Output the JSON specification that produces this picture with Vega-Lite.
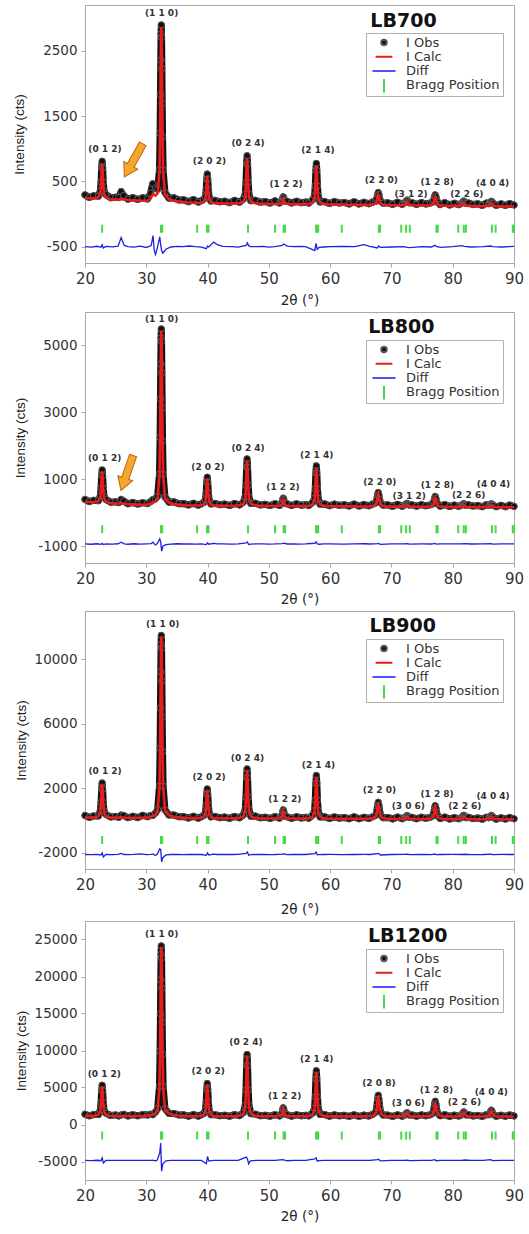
{
"$schema": "https://vega.github.io/schema/vega-lite/v6.json",
"padding": {"left": 12, "top": 4, "right": 2, "bottom": 0},
"spacing": 4,
"config": {
  "font": "DejaVu Sans",
  "locale": {"number": {"decimal": ".", "thousands": "", "grouping": [3], "currency": ["", ""], "minus": "-"}},
  "view": {"stroke": "#a8a8a8", "strokeWidth": 1},
  "axis": {"domainColor": "#a8a8a8", "tickColor": "#a8a8a8", "tickSize": 4, "labelColor": "#333333", "labelFont": "DejaVu Sans", "labelFontSize": 15, "grid": false, "labelPadding": 4, "titleColor": "#222222", "titleFontWeight": "normal", "labelOverlap": false, "labelFlush": false},
  "axisX": {"titleFont": "DejaVu Sans", "titleFontSize": 13.5},
  "axisY": {"titleFont": "Liberation Sans", "titleFontSize": 13.5, "labelFontSize": 13.5},
  "legend": {"orient": "none", "legendX": 281, "legendY": 28, "title": null, "direction": "vertical", "fillColor": "white", "strokeColor": "#b0b0b0", "padding": 3, "labelFont": "DejaVu Sans", "labelFontSize": 13, "labelColor": "#333333", "labelOffset": 7, "symbolOpacity": 1, "symbolStrokeWidth": 2, "rowPadding": 0.3, "clipHeight": 13}
},
"resolve": {"scale": {"fill": "independent", "stroke": "independent", "shape": "independent", "size": "independent", "x": "independent", "y": "independent"}, "legend": {"fill": "independent", "stroke": "independent", "shape": "independent", "size": "independent"}},
"datasets": {
"series": [{"s": "I Obs"}, {"s": "I Calc"}, {"s": "Diff"}, {"s": "Bragg Position"}],
"prof": [
{"x":20,"o1":293,"c1":245,"o2":400,"c2":330,"o3":320,"c3":200,"o4":1390,"c4":1170},
{"x":20.7,"o1":254,"c1":242,"o2":333,"c2":323,"o3":198,"c3":198,"o4":1168,"c4":1168},
{"x":21.4,"o1":280,"c1":239,"o2":374,"c2":316,"o3":292,"c3":196,"o4":1342,"c4":1166},
{"x":22.2,"o1":273,"c1":257,"o2":362,"c2":346,"o3":290,"c3":278,"o4":1347,"c4":1325},
{"x":22.5,"o1":356,"c1":326,"o2":505,"c2":465,"o3":608,"c3":548,"o4":1959,"c4":1849},
{"x":22.62,"o1":492,"c1":462,"o2":739,"c2":699,"o3":1129,"c3":1069,"o4":2967,"c4":2857},
{"x":22.72,"o1":709,"c1":679,"o2":1114,"c2":1074,"o3":1964,"c3":1904,"o4":4581,"c4":4471},
{"x":22.8,"o1":807,"c1":777,"o2":1282,"c2":1242,"o3":2340,"c3":2280,"o4":5307,"c4":5197},
{"x":22.88,"o1":708,"c1":678,"o2":1113,"c2":1073,"o3":1963,"c3":1903,"o4":4580,"c4":4470},
{"x":22.98,"o1":490,"c1":460,"o2":736,"c2":696,"o3":1128,"c3":1068,"o4":2966,"c4":2856},
{"x":23.1,"o1":354,"c1":324,"o2":499,"c2":459,"o3":606,"c3":546,"o4":1957,"c4":1847},
{"x":23.4,"o1":298,"c1":252,"o2":401,"c2":334,"o3":388,"c3":274,"o4":1530,"c4":1321},
{"x":24.2,"o1":249,"c1":226,"o2":316,"c2":288,"o3":223,"c3":187,"o4":1223,"c4":1157},
{"x":25,"o1":258,"c1":223,"o2":329,"c2":280,"o3":263,"c3":185,"o4":1298,"c4":1155},
{"x":25.5,"o1":251,"c1":223,"o2":303,"c2":279,"o3":204,"c3":188,"o4":1154,"c4":1154},
{"x":25.9,"o1":343,"c1":233,"o2":401,"c2":291,"o3":343,"c3":203,"o4":1293,"c4":1153},
{"x":26.3,"o1":284,"c1":220,"o2":355,"c2":271,"o3":322,"c3":185,"o4":1372,"c4":1152},
{"x":27,"o1":226,"c1":214,"o2":270,"c2":260,"o3":179,"c3":179,"o4":1149,"c4":1149},
{"x":27.8,"o1":251,"c1":210,"o2":310,"c2":252,"o3":273,"c3":177,"o4":1323,"c4":1147},
{"x":28.6,"o1":223,"c1":207,"o2":260,"c2":244,"o3":186,"c3":174,"o4":1166,"c4":1144},
{"x":29.4,"o1":249,"c1":203,"o2":303,"c2":236,"o3":330,"c3":182,"o4":1351,"c4":1142},
{"x":30.2,"o1":230,"c1":207,"o2":274,"c2":246,"o3":240,"c3":204,"o4":1275,"c4":1209},
{"x":30.7,"o1":317,"c1":238,"o2":337,"c2":267,"o3":321,"c3":234,"o4":1396,"c4":1253},
{"x":31.05,"o1":464,"c1":307,"o2":390,"c2":310,"o3":318,"c3":288,"o4":1321,"c4":1321},
{"x":31.5,"o1":397,"c1":283,"o2":425,"c2":332,"o3":473,"c3":362,"o4":1679,"c4":1503},
{"x":31.85,"o1":378,"c1":319,"o2":498,"c2":444,"o3":689,"c3":623,"o4":2162,"c4":2052},
{"x":32.15,"o1":677,"c1":647,"o2":1154,"c2":1114,"o3":2140,"c3":2080,"o4":5136,"c4":5026},
{"x":32.25,"o1":1238,"c1":1208,"o2":2252,"c2":2212,"o3":4505,"c3":4445,"o4":9943,"c4":9833},
{"x":32.31,"o1":1825,"c1":1795,"o2":3402,"c2":3362,"o3":6983,"c3":6923,"o4":14979,"c4":14869},
{"x":32.36,"o1":2359,"c1":2329,"o2":4447,"c2":4407,"o3":9235,"c3":9175,"o4":19557,"c4":19447},
{"x":32.41,"o1":2760,"c1":2730,"o2":5231,"c2":5191,"o3":10925,"c3":10865,"o4":22991,"c4":22881},
{"x":32.45,"o1":2893,"c1":2863,"o2":5492,"c2":5452,"o3":11488,"c3":11428,"o4":24135,"c4":24025},
{"x":32.5,"o1":2706,"c1":2676,"o2":5126,"c2":5086,"o3":10700,"c3":10640,"o4":22533,"c4":22423},
{"x":32.55,"o1":2226,"c1":2196,"o2":4186,"c2":4146,"o3":8672,"c3":8612,"o4":18413,"c4":18303},
{"x":32.6,"o1":1692,"c1":1662,"o2":3140,"c2":3100,"o3":6420,"c3":6360,"o4":13835,"c4":13725},
{"x":32.66,"o1":1184,"c1":1154,"o2":2147,"c2":2107,"o3":4280,"c3":4220,"o4":9485,"c4":9375},
{"x":32.75,"o1":675,"c1":645,"o2":1150,"c2":1110,"o3":2135,"c3":2075,"o4":5130,"c4":5020},
{"x":33.05,"o1":329,"c1":299,"o2":474,"c2":434,"o3":675,"c3":615,"o4":2160,"c4":2050},
{"x":33.7,"o1":243,"c1":227,"o2":318,"c2":302,"o3":344,"c3":332,"o4":1498,"c4":1476},
{"x":34.5,"o1":249,"c1":203,"o2":327,"c2":260,"o3":354,"c3":240,"o4":1500,"c4":1291},
{"x":35.3,"o1":215,"c1":192,"o2":271,"c2":243,"o3":240,"c3":204,"o4":1287,"c4":1221},
{"x":36.1,"o1":219,"c1":184,"o2":280,"c2":231,"o3":256,"c3":178,"o4":1311,"c4":1168},
{"x":36.9,"o1":188,"c1":176,"o2":230,"c2":220,"o3":156,"c3":156,"o4":1126,"c4":1126},
{"x":37.7,"o1":221,"c1":173,"o2":288,"c2":218,"o3":275,"c3":155,"o4":1345,"c4":1125},
{"x":38.5,"o1":182,"c1":170,"o2":227,"c2":217,"o3":153,"c3":153,"o4":1123,"c4":1123},
{"x":39.35,"o1":225,"c1":184,"o2":306,"c2":248,"o3":317,"c3":221,"o4":1469,"c4":1293},
{"x":39.65,"o1":267,"c1":237,"o2":393,"c2":353,"o3":510,"c3":450,"o4":1964,"c4":1854},
{"x":39.77,"o1":371,"c1":341,"o2":595,"c2":555,"o3":948,"c3":888,"o4":3040,"c4":2930},
{"x":39.87,"o1":537,"c1":507,"o2":919,"c2":879,"o3":1651,"c3":1591,"o4":4764,"c4":4654},
{"x":39.95,"o1":611,"c1":581,"o2":1065,"c2":1025,"o3":1967,"c3":1907,"o4":5540,"c4":5430},
{"x":40.03,"o1":536,"c1":506,"o2":918,"c2":878,"o3":1650,"c3":1590,"o4":4763,"c4":4653},
{"x":40.13,"o1":370,"c1":340,"o2":594,"c2":554,"o3":947,"c3":887,"o4":3039,"c4":2929},
{"x":40.25,"o1":266,"c1":236,"o2":392,"c2":352,"o3":509,"c3":449,"o4":1963,"c4":1853},
{"x":40.55,"o1":198,"c1":182,"o2":262,"c2":246,"o3":231,"c3":219,"o4":1313,"c4":1291},
{"x":41.2,"o1":210,"c1":164,"o2":281,"c2":214,"o3":262,"c3":148,"o4":1328,"c4":1119},
{"x":42,"o1":186,"c1":163,"o2":241,"c2":213,"o3":183,"c3":147,"o4":1184,"c4":1118},
{"x":42.8,"o1":197,"c1":162,"o2":261,"c2":212,"o3":224,"c3":146,"o4":1260,"c4":1117},
{"x":43.6,"o1":173,"c1":161,"o2":221,"c2":211,"o3":145,"c3":145,"o4":1116,"c4":1116},
{"x":44.4,"o1":209,"c1":161,"o2":281,"c2":211,"o3":263,"c3":143,"o4":1336,"c4":1116},
{"x":45.2,"o1":179,"c1":167,"o2":234,"c2":224,"o3":172,"c3":172,"o4":1197,"c4":1197},
{"x":45.85,"o1":228,"c1":187,"o2":321,"c2":263,"o3":357,"c3":261,"o4":1620,"c4":1444},
{"x":46.15,"o1":309,"c1":279,"o2":481,"c2":441,"o3":711,"c3":651,"o4":2624,"c4":2514},
{"x":46.27,"o1":484,"c1":454,"o2":821,"c2":781,"o3":1463,"c3":1403,"o4":4683,"c4":4573},
{"x":46.37,"o1":765,"c1":735,"o2":1366,"c2":1326,"o3":2667,"c3":2607,"o4":7978,"c4":7868},
{"x":46.45,"o1":891,"c1":861,"o2":1611,"c2":1571,"o3":3208,"c3":3148,"o4":9460,"c4":9350},
{"x":46.53,"o1":764,"c1":734,"o2":1365,"c2":1325,"o3":2666,"c3":2606,"o4":7977,"c4":7867},
{"x":46.63,"o1":483,"c1":453,"o2":820,"c2":780,"o3":1462,"c3":1402,"o4":4682,"c4":4572},
{"x":46.75,"o1":308,"c1":278,"o2":480,"c2":440,"o3":710,"c3":650,"o4":2623,"c4":2513},
{"x":47.05,"o1":202,"c1":186,"o2":278,"c2":262,"o3":271,"c3":259,"o4":1464,"c4":1442},
{"x":47.8,"o1":210,"c1":164,"o2":288,"c2":221,"o3":282,"c3":168,"o4":1403,"c4":1194},
{"x":48.6,"o1":179,"c1":156,"o2":234,"c2":206,"o3":173,"c3":137,"o4":1177,"c4":1111},
{"x":49.4,"o1":191,"c1":156,"o2":255,"c2":206,"o3":214,"c3":136,"o4":1254,"c4":1111},
{"x":50.2,"o1":167,"c1":155,"o2":215,"c2":205,"o3":135,"c3":135,"o4":1110,"c4":1110},
{"x":51,"o1":202,"c1":154,"o2":274,"c2":204,"o3":254,"c3":134,"o4":1329,"c4":1109},
{"x":51.75,"o1":168,"c1":156,"o2":221,"c2":211,"o3":151,"c3":151,"o4":1149,"c4":1149},
{"x":52.05,"o1":197,"c1":167,"o2":276,"c2":236,"o3":272,"c3":212,"o4":1393,"c4":1283},
{"x":52.17,"o1":217,"c1":187,"o2":325,"c2":285,"o3":389,"c3":329,"o4":1651,"c4":1541},
{"x":52.27,"o1":249,"c1":219,"o2":403,"c2":363,"o3":577,"c3":517,"o4":2063,"c4":1953},
{"x":52.35,"o1":263,"c1":233,"o2":438,"c2":398,"o3":662,"c3":602,"o4":2249,"c4":2139},
{"x":52.43,"o1":249,"c1":219,"o2":403,"c2":363,"o3":577,"c3":517,"o4":2063,"c4":1953},
{"x":52.53,"o1":217,"c1":187,"o2":325,"c2":285,"o3":389,"c3":329,"o4":1651,"c4":1541},
{"x":52.65,"o1":197,"c1":167,"o2":276,"c2":236,"o3":272,"c3":212,"o4":1393,"c4":1283},
{"x":52.95,"o1":197,"c1":156,"o2":268,"c2":210,"o3":245,"c3":149,"o4":1324,"c4":1148},
{"x":53.7,"o1":167,"c1":151,"o2":217,"c2":201,"o3":141,"c3":129,"o4":1128,"c4":1106},
{"x":54.5,"o1":197,"c1":151,"o2":268,"c2":201,"o3":242,"c3":128,"o4":1315,"c4":1106},
{"x":55.3,"o1":173,"c1":150,"o2":228,"c2":200,"o3":163,"c3":127,"o4":1171,"c4":1105},
{"x":56.1,"o1":184,"c1":149,"o2":248,"c2":199,"o3":204,"c3":126,"o4":1247,"c4":1104},
{"x":56.5,"o1":167,"c1":155,"o2":221,"c2":211,"o3":151,"c3":151,"o4":1163,"c4":1163},
{"x":57.15,"o1":220,"c1":172,"o2":315,"c2":245,"o3":348,"c3":228,"o4":1565,"c4":1345},
{"x":57.45,"o1":280,"c1":250,"o2":436,"c2":396,"o3":628,"c3":568,"o4":2238,"c4":2128},
{"x":57.57,"o1":429,"c1":399,"o2":726,"c2":686,"o3":1279,"c3":1219,"o4":3748,"c4":3638},
{"x":57.67,"o1":668,"c1":638,"o2":1192,"c2":1152,"o3":2323,"c3":2263,"o4":6163,"c4":6053},
{"x":57.75,"o1":775,"c1":745,"o2":1402,"c2":1362,"o3":2793,"c3":2733,"o4":7250,"c4":7140},
{"x":57.83,"o1":667,"c1":637,"o2":1191,"c2":1151,"o3":2322,"c3":2262,"o4":6162,"c4":6052},
{"x":57.93,"o1":428,"c1":398,"o2":725,"c2":685,"o3":1278,"c3":1218,"o4":3747,"c4":3637},
{"x":58.05,"o1":279,"c1":249,"o2":435,"c2":395,"o3":627,"c3":567,"o4":2237,"c4":2127},
{"x":58.35,"o1":183,"c1":171,"o2":254,"c2":244,"o3":226,"c3":226,"o4":1343,"c4":1343},
{"x":59.1,"o1":193,"c1":152,"o2":266,"c2":208,"o3":243,"c3":147,"o4":1337,"c4":1161},
{"x":59.9,"o1":161,"c1":145,"o2":211,"c2":195,"o3":132,"c3":120,"o4":1122,"c4":1100},
{"x":60.7,"o1":190,"c1":144,"o2":261,"c2":194,"o3":233,"c3":119,"o4":1309,"c4":1100},
{"x":61.5,"o1":167,"c1":144,"o2":222,"c2":194,"o3":154,"c3":118,"o4":1165,"c4":1099},
{"x":62.3,"o1":178,"c1":143,"o2":242,"c2":193,"o3":195,"c3":117,"o4":1242,"c4":1099},
{"x":63.1,"o1":154,"c1":142,"o2":202,"c2":192,"o3":116,"c3":116,"o4":1099,"c4":1099},
{"x":63.9,"o1":189,"c1":141,"o2":261,"c2":191,"o3":235,"c3":115,"o4":1319,"c4":1099},
{"x":64.7,"o1":152,"c1":140,"o2":200,"c2":190,"o3":114,"c3":114,"o4":1098,"c4":1098},
{"x":65.5,"o1":181,"c1":140,"o2":248,"c2":190,"o3":209,"c3":113,"o4":1274,"c4":1098},
{"x":66.3,"o1":157,"c1":141,"o2":209,"c2":193,"o3":134,"c3":122,"o4":1148,"c4":1126},
{"x":67.05,"o1":190,"c1":144,"o2":270,"c2":203,"o3":264,"c3":150,"o4":1416,"c4":1207},
{"x":67.45,"o1":196,"c1":166,"o2":293,"c2":253,"o3":336,"c3":276,"o4":1675,"c4":1565},
{"x":67.61,"o1":236,"c1":206,"o2":387,"c2":347,"o3":577,"c3":517,"o4":2363,"c4":2253},
{"x":67.75,"o1":300,"c1":270,"o2":539,"c2":499,"o3":965,"c3":905,"o4":3464,"c4":3354},
{"x":67.85,"o1":329,"c1":299,"o2":608,"c2":568,"o3":1140,"c3":1080,"o4":3959,"c4":3849},
{"x":67.95,"o1":300,"c1":270,"o2":539,"c2":499,"o3":965,"c3":905,"o4":3464,"c4":3354},
{"x":68.09,"o1":236,"c1":206,"o2":387,"c2":347,"o3":577,"c3":517,"o4":2363,"c4":2253},
{"x":68.25,"o1":195,"c1":165,"o2":292,"c2":252,"o3":335,"c3":275,"o4":1674,"c4":1564},
{"x":68.65,"o1":165,"c1":142,"o2":229,"c2":201,"o3":184,"c3":148,"o4":1273,"c4":1207},
{"x":69.4,"o1":173,"c1":138,"o2":239,"c2":190,"o3":196,"c3":118,"o4":1267,"c4":1124},
{"x":70.2,"o1":147,"c1":135,"o2":195,"c2":185,"o3":106,"c3":106,"o4":1096,"c4":1096},
{"x":71,"o1":182,"c1":134,"o2":254,"c2":184,"o3":225,"c3":105,"o4":1315,"c4":1095},
{"x":71.75,"o1":147,"c1":135,"o2":195,"c2":185,"o3":110,"c3":110,"o4":1111,"c4":1111},
{"x":72.15,"o1":172,"c1":142,"o2":233,"c2":193,"o3":190,"c3":130,"o4":1272,"c4":1162},
{"x":72.31,"o1":184,"c1":154,"o2":247,"c2":207,"o3":226,"c3":166,"o4":1372,"c4":1262},
{"x":72.45,"o1":203,"c1":173,"o2":271,"c2":231,"o3":286,"c3":226,"o4":1532,"c4":1422},
{"x":72.55,"o1":212,"c1":182,"o2":282,"c2":242,"o3":313,"c3":253,"o4":1604,"c4":1494},
{"x":72.65,"o1":203,"c1":173,"o2":271,"c2":231,"o3":286,"c3":226,"o4":1532,"c4":1422},
{"x":72.79,"o1":184,"c1":154,"o2":247,"c2":207,"o3":226,"c3":166,"o4":1372,"c4":1262},
{"x":72.95,"o1":171,"c1":141,"o2":232,"c2":192,"o3":189,"c3":129,"o4":1271,"c4":1161},
{"x":73.35,"o1":175,"c1":134,"o2":241,"c2":183,"o3":204,"c3":108,"o4":1286,"c4":1110},
{"x":74.1,"o1":147,"c1":131,"o2":197,"c2":181,"o3":113,"c3":101,"o4":1115,"c4":1093},
{"x":74.9,"o1":176,"c1":130,"o2":247,"c2":180,"o3":214,"c3":100,"o4":1302,"c4":1093},
{"x":75.6,"o1":153,"c1":130,"o2":210,"c2":182,"o3":143,"c3":107,"o4":1178,"c4":1112},
{"x":76.35,"o1":169,"c1":134,"o2":239,"c2":190,"o3":207,"c3":129,"o4":1314,"c4":1171},
{"x":76.75,"o1":181,"c1":151,"o2":264,"c2":224,"o3":289,"c3":229,"o4":1534,"c4":1424},
{"x":76.91,"o1":215,"c1":185,"o2":331,"c2":291,"o3":481,"c3":421,"o4":2020,"c4":1910},
{"x":77.05,"o1":270,"c1":240,"o2":439,"c2":399,"o3":789,"c3":729,"o4":2798,"c4":2688},
{"x":77.15,"o1":293,"c1":263,"o2":488,"c2":448,"o3":928,"c3":868,"o4":3148,"c4":3038},
{"x":77.25,"o1":269,"c1":239,"o2":439,"c2":399,"o3":789,"c3":729,"o4":2798,"c4":2688},
{"x":77.39,"o1":214,"c1":184,"o2":331,"c2":291,"o3":481,"c3":421,"o4":2020,"c4":1910},
{"x":77.55,"o1":180,"c1":150,"o2":264,"c2":224,"o3":288,"c3":228,"o4":1533,"c4":1423},
{"x":77.95,"o1":144,"c1":132,"o2":198,"c2":188,"o3":127,"c3":127,"o4":1170,"c4":1170},
{"x":78.7,"o1":175,"c1":127,"o2":249,"c2":179,"o3":223,"c3":103,"o4":1331,"c4":1111},
{"x":79.5,"o1":138,"c1":126,"o2":186,"c2":176,"o3":94,"c3":94,"o4":1092,"c4":1092},
{"x":80.25,"o1":166,"c1":125,"o2":233,"c2":175,"o3":189,"c3":93,"o4":1267,"c4":1091},
{"x":81,"o1":142,"c1":126,"o2":192,"c2":176,"o3":111,"c3":99,"o4":1133,"c4":1111},
{"x":81.4,"o1":162,"c1":132,"o2":224,"c2":184,"o3":183,"c3":123,"o4":1286,"c4":1176},
{"x":81.56,"o1":172,"c1":142,"o2":239,"c2":199,"o3":227,"c3":167,"o4":1411,"c4":1301},
{"x":81.7,"o1":190,"c1":160,"o2":262,"c2":222,"o3":299,"c3":239,"o4":1611,"c4":1501},
{"x":81.8,"o1":198,"c1":168,"o2":273,"c2":233,"o3":331,"c3":271,"o4":1701,"c4":1591},
{"x":81.9,"o1":190,"c1":160,"o2":262,"c2":222,"o3":299,"c3":239,"o4":1611,"c4":1501},
{"x":82.04,"o1":172,"c1":142,"o2":239,"c2":199,"o3":227,"c3":167,"o4":1411,"c4":1301},
{"x":82.2,"o1":161,"c1":131,"o2":223,"c2":183,"o3":182,"c3":122,"o4":1285,"c4":1175},
{"x":82.6,"o1":170,"c1":124,"o2":241,"c2":174,"o3":211,"c3":97,"o4":1319,"c4":1110},
{"x":83.3,"o1":145,"c1":122,"o2":200,"c2":172,"o3":125,"c3":89,"o4":1156,"c4":1090},
{"x":84.1,"o1":156,"c1":121,"o2":220,"c2":171,"o3":166,"c3":88,"o4":1232,"c4":1089},
{"x":84.8,"o1":132,"c1":120,"o2":180,"c2":170,"o3":87,"c3":87,"o4":1089,"c4":1089},
{"x":85.5,"o1":170,"c1":122,"o2":242,"c2":172,"o3":213,"c3":93,"o4":1338,"c4":1118},
{"x":85.9,"o1":158,"c1":128,"o2":219,"c2":179,"o3":177,"c3":117,"o4":1324,"c4":1214},
{"x":86.06,"o1":168,"c1":138,"o2":234,"c2":194,"o3":221,"c3":161,"o4":1507,"c4":1397},
{"x":86.2,"o1":186,"c1":156,"o2":258,"c2":218,"o3":293,"c3":233,"o4":1800,"c4":1690},
{"x":86.3,"o1":194,"c1":164,"o2":269,"c2":229,"o3":325,"c3":265,"o4":1932,"c4":1822},
{"x":86.4,"o1":186,"c1":156,"o2":258,"c2":218,"o3":293,"c3":233,"o4":1800,"c4":1690},
{"x":86.54,"o1":168,"c1":138,"o2":234,"c2":194,"o3":221,"c3":161,"o4":1507,"c4":1397},
{"x":86.7,"o1":157,"c1":127,"o2":218,"c2":178,"o3":176,"c3":116,"o4":1323,"c4":1213},
{"x":87.1,"o1":132,"c1":120,"o2":180,"c2":170,"o3":91,"c3":91,"o4":1117,"c4":1117},
{"x":87.9,"o1":158,"c1":117,"o2":225,"c2":167,"o3":179,"c3":83,"o4":1264,"c4":1088},
{"x":88.6,"o1":132,"c1":116,"o2":182,"c2":166,"o3":94,"c3":82,"o4":1109,"c4":1087},
{"x":89.3,"o1":162,"c1":116,"o2":233,"c2":166,"o3":195,"c3":81,"o4":1296,"c4":1087},
{"x":90,"o1":138,"c1":115,"o2":193,"c2":165,"o3":116,"c3":80,"o4":1153,"c4":1087}
],
"diff": [
{"x":20,"d1":-500,"d2":-930,"d3":-2100,"d4":-4850},
{"x":21,"d1":-508,"d2":-940,"d3":-2110,"d4":-4870},
{"x":22,"d1":-494,"d2":-925,"d3":-2090,"d4":-4830},
{"x":22.6,"d1":-510,"d2":-945,"d3":-2130,"d4":-4900},
{"x":22.8,"d1":-470,"d2":-915,"d3":-2000,"d4":-4500},
{"x":23,"d1":-520,"d2":-950,"d3":-2250,"d4":-5200},
{"x":23.4,"d1":-496,"d2":-928,"d3":-2095,"d4":-4860},
{"x":24.5,"d1":-503,"d2":-935,"d3":-2105,"d4":-4840},
{"x":25.4,"d1":-492,"d2":-925,"d3":-2095,"d4":-4855},
{"x":25.9,"d1":-360,"d2":-880,"d3":-2030,"d4":-4840},
{"x":26.4,"d1":-480,"d2":-930,"d3":-2100,"d4":-4850},
{"x":27,"d1":-500,"d2":-940,"d3":-2110,"d4":-4860},
{"x":28,"d1":-506,"d2":-925,"d3":-2095,"d4":-4845},
{"x":29,"d1":-492,"d2":-935,"d3":-2060,"d4":-4855},
{"x":30,"d1":-512,"d2":-928,"d3":-2105,"d4":-4850},
{"x":30.8,"d1":-482,"d2":-920,"d3":-2090,"d4":-4840},
{"x":31.1,"d1":-330,"d2":-880,"d3":-2060,"d4":-4830},
{"x":31.3,"d1":-560,"d2":-930,"d3":-2120,"d4":-4870},
{"x":31.5,"d1":-620,"d2":-960,"d3":-2150,"d4":-4900},
{"x":31.8,"d1":-520,"d2":-920,"d3":-2090,"d4":-4800},
{"x":32.2,"d1":-350,"d2":-780,"d3":-1750,"d4":-3800},
{"x":32.35,"d1":-470,"d2":-870,"d3":-1800,"d4":-2500},
{"x":32.5,"d1":-560,"d2":-1150,"d3":-2550,"d4":-6300},
{"x":32.7,"d1":-600,"d2":-1000,"d3":-2300,"d4":-5300},
{"x":33.2,"d1":-540,"d2":-950,"d3":-2130,"d4":-4900},
{"x":34,"d1":-505,"d2":-935,"d3":-2100,"d4":-4860},
{"x":35,"d1":-495,"d2":-925,"d3":-2095,"d4":-4845},
{"x":36,"d1":-500,"d2":-932,"d3":-2105,"d4":-4855},
{"x":37,"d1":-490,"d2":-928,"d3":-2098,"d4":-4850},
{"x":38,"d1":-500,"d2":-935,"d3":-2102,"d4":-4846},
{"x":39,"d1":-506,"d2":-930,"d3":-2100,"d4":-4852},
{"x":39.8,"d1":-530,"d2":-950,"d3":-2150,"d4":-5300},
{"x":40,"d1":-490,"d2":-895,"d3":-2000,"d4":-4300},
{"x":40.2,"d1":-505,"d2":-940,"d3":-2130,"d4":-4950},
{"x":41,"d1":-430,"d2":-915,"d3":-2080,"d4":-4840},
{"x":41.6,"d1":-470,"d2":-930,"d3":-2100,"d4":-4850},
{"x":42.5,"d1":-496,"d2":-928,"d3":-2095,"d4":-4855},
{"x":44,"d1":-500,"d2":-934,"d3":-2102,"d4":-4848},
{"x":45,"d1":-506,"d2":-929,"d3":-2098,"d4":-4852},
{"x":46.3,"d1":-480,"d2":-900,"d3":-2030,"d4":-4400},
{"x":46.5,"d1":-440,"d2":-870,"d3":-1950,"d4":-4600},
{"x":46.7,"d1":-485,"d2":-950,"d3":-2150,"d4":-5300},
{"x":47,"d1":-500,"d2":-935,"d3":-2110,"d4":-4900},
{"x":48,"d1":-500,"d2":-930,"d3":-2100,"d4":-4850},
{"x":49,"d1":-494,"d2":-926,"d3":-2096,"d4":-4846},
{"x":50,"d1":-506,"d2":-934,"d3":-2104,"d4":-4854},
{"x":51,"d1":-500,"d2":-930,"d3":-2100,"d4":-4850},
{"x":52.2,"d1":-480,"d2":-920,"d3":-2080,"d4":-4750},
{"x":52.4,"d1":-460,"d2":-905,"d3":-2060,"d4":-4780},
{"x":53,"d1":-492,"d2":-932,"d3":-2110,"d4":-4900},
{"x":54,"d1":-500,"d2":-928,"d3":-2098,"d4":-4848},
{"x":55,"d1":-495,"d2":-934,"d3":-2102,"d4":-4854},
{"x":56,"d1":-500,"d2":-930,"d3":-2100,"d4":-4850},
{"x":57.5,"d1":-560,"d2":-910,"d3":-2050,"d4":-4650},
{"x":57.7,"d1":-450,"d2":-870,"d3":-1950,"d4":-4500},
{"x":57.9,"d1":-540,"d2":-930,"d3":-2120,"d4":-4950},
{"x":58.2,"d1":-510,"d2":-940,"d3":-2110,"d4":-4880},
{"x":59,"d1":-505,"d2":-930,"d3":-2100,"d4":-4850},
{"x":60,"d1":-500,"d2":-926,"d3":-2096,"d4":-4846},
{"x":62,"d1":-495,"d2":-934,"d3":-2104,"d4":-4854},
{"x":64,"d1":-500,"d2":-930,"d3":-2100,"d4":-4850},
{"x":65.5,"d1":-470,"d2":-925,"d3":-2095,"d4":-4845},
{"x":66.5,"d1":-495,"d2":-932,"d3":-2100,"d4":-4852},
{"x":67.7,"d1":-520,"d2":-920,"d3":-2040,"d4":-4750},
{"x":67.9,"d1":-490,"d2":-915,"d3":-2030,"d4":-4700},
{"x":68.2,"d1":-510,"d2":-945,"d3":-2130,"d4":-4920},
{"x":70,"d1":-505,"d2":-930,"d3":-2100,"d4":-4850},
{"x":72,"d1":-500,"d2":-928,"d3":-2098,"d4":-4848},
{"x":72.6,"d1":-512,"d2":-925,"d3":-2085,"d4":-4820},
{"x":73,"d1":-515,"d2":-934,"d3":-2110,"d4":-4870},
{"x":75,"d1":-500,"d2":-930,"d3":-2100,"d4":-4850},
{"x":76.5,"d1":-505,"d2":-933,"d3":-2103,"d4":-4853},
{"x":77.1,"d1":-480,"d2":-915,"d3":-2070,"d4":-4750},
{"x":77.3,"d1":-495,"d2":-935,"d3":-2110,"d4":-4900},
{"x":78,"d1":-510,"d2":-930,"d3":-2100,"d4":-4850},
{"x":80,"d1":-500,"d2":-927,"d3":-2097,"d4":-4847},
{"x":81.5,"d1":-485,"d2":-930,"d3":-2100,"d4":-4850},
{"x":81.9,"d1":-495,"d2":-922,"d3":-2085,"d4":-4800},
{"x":83,"d1":-505,"d2":-933,"d3":-2103,"d4":-4853},
{"x":85,"d1":-500,"d2":-930,"d3":-2100,"d4":-4850},
{"x":86.2,"d1":-490,"d2":-920,"d3":-2080,"d4":-4750},
{"x":86.5,"d1":-498,"d2":-935,"d3":-2105,"d4":-4870},
{"x":88,"d1":-505,"d2":-929,"d3":-2099,"d4":-4849},
{"x":90,"d1":-495,"d2":-930,"d3":-2100,"d4":-4850}
],
"bragg": [
{"x":22.8},{"x":32.4},{"x":32.6},{"x":38.3},{"x":39.9},{"x":40.15},{"x":46.6},{"x":51.0},{"x":52.4},{"x":52.65},{"x":57.7},{"x":57.9},{"x":58.05},{"x":61.9},{"x":67.95},{"x":68.15},{"x":71.6},{"x":72.4},{"x":73.0},{"x":77.35},{"x":77.55},{"x":80.9},{"x":81.8},{"x":82.15},{"x":86.4},{"x":87.0},{"x":89.8},{"x":89.95}
],
"lab": [
{"p":"LB700","x":23.26,"y":995,"t":"(0 1 2)"},
{"p":"LB700","x":32.5,"y":3070,"t":"(1 1 0)"},
{"p":"LB700","x":40.3,"y":810,"t":"(2 0 2)"},
{"p":"LB700","x":46.6,"y":1092,"t":"(0 2 4)"},
{"p":"LB700","x":52.8,"y":467,"t":"(1 2 2)"},
{"p":"LB700","x":58.0,"y":975,"t":"(2 1 4)"},
{"p":"LB700","x":68.35,"y":518,"t":"(2 2 0)"},
{"p":"LB700","x":73.2,"y":314,"t":"(3 1 2)"},
{"p":"LB700","x":77.46,"y":483,"t":"(1 2 8)"},
{"p":"LB700","x":82.3,"y":314,"t":"(2 2 6)"},
{"p":"LB700","x":86.5,"y":472,"t":"(4 0 4)"},
{"p":"LB800","x":23.2,"y":1633,"t":"(0 1 2)"},
{"p":"LB800","x":32.5,"y":5782,"t":"(1 1 0)"},
{"p":"LB800","x":40.06,"y":1355,"t":"(2 0 2)"},
{"p":"LB800","x":46.6,"y":1931,"t":"(0 2 4)"},
{"p":"LB800","x":57.8,"y":1722,"t":"(2 1 4)"},
{"p":"LB800","x":52.3,"y":776,"t":"(1 2 2)"},
{"p":"LB800","x":68.1,"y":925,"t":"(2 2 0)"},
{"p":"LB800","x":72.9,"y":507,"t":"(3 1 2)"},
{"p":"LB800","x":77.5,"y":827,"t":"(1 2 8)"},
{"p":"LB800","x":82.6,"y":528,"t":"(2 2 6)"},
{"p":"LB800","x":86.65,"y":857,"t":"(4 0 4)"},
{"p":"LB900","x":23.27,"y":3105,"t":"(0 1 2)"},
{"p":"LB900","x":32.67,"y":12215,"t":"(1 1 0)"},
{"p":"LB900","x":40.24,"y":2695,"t":"(2 0 2)"},
{"p":"LB900","x":46.5,"y":3875,"t":"(0 2 4)"},
{"p":"LB900","x":58.1,"y":3440,"t":"(2 1 4)"},
{"p":"LB900","x":52.6,"y":1348,"t":"(1 2 2)"},
{"p":"LB900","x":68.05,"y":1906,"t":"(2 2 0)"},
{"p":"LB900","x":72.75,"y":913,"t":"(3 0 6)"},
{"p":"LB900","x":77.45,"y":1677,"t":"(1 2 8)"},
{"p":"LB900","x":81.98,"y":913,"t":"(2 2 6)"},
{"p":"LB900","x":86.58,"y":1553,"t":"(4 0 4)"},
{"p":"LB1200","x":23.15,"y":6850,"t":"(0 1 2)"},
{"p":"LB1200","x":32.5,"y":25760,"t":"(1 1 0)"},
{"p":"LB1200","x":40.1,"y":7295,"t":"(2 0 2)"},
{"p":"LB1200","x":46.27,"y":11120,"t":"(0 2 4)"},
{"p":"LB1200","x":57.8,"y":8875,"t":"(2 1 4)"},
{"p":"LB1200","x":52.57,"y":3825,"t":"(1 2 2)"},
{"p":"LB1200","x":67.95,"y":5630,"t":"(2 0 8)"},
{"p":"LB1200","x":72.75,"y":2880,"t":"(3 0 6)"},
{"p":"LB1200","x":77.34,"y":4635,"t":"(1 2 8)"},
{"p":"LB1200","x":81.9,"y":3065,"t":"(2 2 6)"},
{"p":"LB1200","x":86.3,"y":4365,"t":"(4 0 4)"}
],
"names": [
{"p":"LB700","x":66.56,"y":2951,"t":"LB700"},
{"p":"LB800","x":66.2,"y":5564,"t":"LB800"},
{"p":"LB900","x":66.44,"y":12090,"t":"LB900"},
{"p":"LB1200","x":66.16,"y":25440,"t":"LB1200"}
],
"arrows": [
{"p":"LB700","x":27.92,"y":821},
{"p":"LB800","x":26.86,"y":1190}
]
},
"vconcat": [
{
"width": 429, "height": 258,
"layer": [
{"data": {"name": "prof"}, "mark": {"type": "line", "strokeWidth": 7, "color": "#151515", "strokeJoin": "round", "strokeCap": "round"}, "encoding": {"x": {"field": "x", "type": "quantitative", "scale": {"domain": [20, 90], "nice": false, "zero": false}, "axis": {"title": "2θ (°)", "values": [20,25,30,35,40,45,50,55,60,65,70,75,80,85,90], "labelExpr": "datum.value % 10 === 0 ? datum.label : ''", "titlePadding": 7}}, "y": {"field": "o1", "type": "quantitative", "scale": {"domain": [-750, 3200], "nice": false, "zero": false}, "axis": {"title": "Intensity (cts)", "format": "d", "values": [-500,0,500,1000,1500,2000,2500,3000], "labelFontSize": 13.5, "labelOverlap": false, "titlePadding": 16}}}},
{"data": {"name": "prof"}, "mark": {"type": "point", "filled": true, "size": 42, "color": "#111111", "stroke": "#7a7a7a", "strokeWidth": 0.7, "opacity": 1}, "encoding": {"x": {"field": "x", "type": "quantitative"}, "y": {"field": "o1", "type": "quantitative"}}},
{"data": {"name": "prof"}, "mark": {"type": "line", "strokeWidth": 2.6, "color": "#e81c1c"}, "encoding": {"x": {"field": "x", "type": "quantitative"}, "y": {"field": "c1", "type": "quantitative"}}},
{"data": {"name": "diff"}, "mark": {"type": "line", "strokeWidth": 1.3, "color": "#1f1fe0"}, "encoding": {"x": {"field": "x", "type": "quantitative"}, "y": {"field": "d1", "type": "quantitative"}}},
{"data": {"name": "bragg"}, "mark": {"type": "tick", "orient": "vertical", "size": 8, "thickness": 2, "opacity": 1, "color": "#48d848"}, "encoding": {"x": {"field": "x", "type": "quantitative"}, "y": {"datum": -225, "type": "quantitative"}}},
{"data": {"name": "lab"}, "transform": [{"filter": "datum.p === 'LB700'"}], "mark": {"type": "text", "font": "DejaVu Sans", "fontWeight": "bold", "fontSize": 9, "color": "#333333"}, "encoding": {"x": {"field": "x", "type": "quantitative"}, "y": {"field": "y", "type": "quantitative"}, "text": {"field": "t"}}},
{"data": {"name": "names"}, "transform": [{"filter": "datum.p === 'LB700'"}], "mark": {"type": "text", "align": "left", "baseline": "middle", "font": "DejaVu Sans", "fontWeight": "bold", "fontSize": 19, "color": "#111111"}, "encoding": {"x": {"field": "x", "type": "quantitative"}, "y": {"field": "y", "type": "quantitative"}, "text": {"field": "t"}}},
{"data": {"name": "arrows"}, "transform": [{"filter": "datum.p === 'LB700'"}], "mark": {"type": "point", "shape": "M-0.2,-1L0.2,-1L0.2,0.3L0.42,0.3L0,1L-0.42,0.3L-0.2,0.3Z", "size": 1444, "angle": 29, "filled": true, "fill": "#f4a72e", "stroke": "#b96a10", "strokeWidth": 1, "opacity": 1}, "encoding": {"x": {"field": "x", "type": "quantitative"}, "y": {"field": "y", "type": "quantitative"}}},
{"data": {"name": "series"}, "mark": {"type": "point", "filled": true, "opacity": 0}, "encoding": {"x": {"datum": 20, "type": "quantitative"}, "y": {"datum": 0, "type": "quantitative"},
  "fill": {"field": "s", "type": "nominal", "scale": {"domain": ["I Obs", "I Calc", "Diff", "Bragg Position"], "range": ["#111111", "#e81c1c", "#5050ff", "#48d848"]}},
  "stroke": {"field": "s", "type": "nominal", "scale": {"domain": ["I Obs", "I Calc", "Diff", "Bragg Position"], "range": ["#555555", "#e81c1c", "#5050ff", "#48d848"]}},
  "shape": {"field": "s", "type": "nominal", "scale": {"domain": ["I Obs", "I Calc", "Diff", "Bragg Position"], "range": ["circle", "stroke", "stroke", "M0,-1L0,1"]}},
  "size": {"field": "s", "type": "nominal", "scale": {"domain": ["I Obs", "I Calc", "Diff", "Bragg Position"], "range": [30, 784, 784, 20]}}}}
]
},
{
"width": 429, "height": 251,
"layer": [
{"data": {"name": "prof"}, "mark": {"type": "line", "strokeWidth": 7, "color": "#151515", "strokeJoin": "round", "strokeCap": "round"}, "encoding": {"x": {"field": "x", "type": "quantitative", "scale": {"domain": [20, 90], "nice": false, "zero": false}, "axis": {"title": "2θ (°)", "values": [20,25,30,35,40,45,50,55,60,65,70,75,80,85,90], "labelExpr": "datum.value % 10 === 0 ? datum.label : ''", "titlePadding": 6}}, "y": {"field": "o2", "type": "quantitative", "scale": {"domain": [-1500, 6000], "nice": false, "zero": false}, "axis": {"title": "Intensity (cts)", "format": "d", "values": [-1000,0,1000,2000,3000,4000,5000,6000], "labelFontSize": 13.5, "labelOverlap": false, "titlePadding": 10}}}},
{"data": {"name": "prof"}, "mark": {"type": "point", "filled": true, "size": 42, "color": "#111111", "stroke": "#7a7a7a", "strokeWidth": 0.7, "opacity": 1}, "encoding": {"x": {"field": "x", "type": "quantitative"}, "y": {"field": "o2", "type": "quantitative"}}},
{"data": {"name": "prof"}, "mark": {"type": "line", "strokeWidth": 2.6, "color": "#e81c1c"}, "encoding": {"x": {"field": "x", "type": "quantitative"}, "y": {"field": "c2", "type": "quantitative"}}},
{"data": {"name": "diff"}, "mark": {"type": "line", "strokeWidth": 1.3, "color": "#1f1fe0"}, "encoding": {"x": {"field": "x", "type": "quantitative"}, "y": {"field": "d2", "type": "quantitative"}}},
{"data": {"name": "bragg"}, "mark": {"type": "tick", "orient": "vertical", "size": 8, "thickness": 2, "opacity": 1, "color": "#48d848"}, "encoding": {"x": {"field": "x", "type": "quantitative"}, "y": {"datum": -490, "type": "quantitative"}}},
{"data": {"name": "lab"}, "transform": [{"filter": "datum.p === 'LB800'"}], "mark": {"type": "text", "font": "DejaVu Sans", "fontWeight": "bold", "fontSize": 9, "color": "#333333"}, "encoding": {"x": {"field": "x", "type": "quantitative"}, "y": {"field": "y", "type": "quantitative"}, "text": {"field": "t"}}},
{"data": {"name": "names"}, "transform": [{"filter": "datum.p === 'LB800'"}], "mark": {"type": "text", "align": "left", "baseline": "middle", "font": "DejaVu Sans", "fontWeight": "bold", "fontSize": 19, "color": "#111111"}, "encoding": {"x": {"field": "x", "type": "quantitative"}, "y": {"field": "y", "type": "quantitative"}, "text": {"field": "t"}}},
{"data": {"name": "arrows"}, "transform": [{"filter": "datum.p === 'LB800'"}], "mark": {"type": "point", "shape": "M-0.2,-1L0.2,-1L0.2,0.3L0.42,0.3L0,1L-0.42,0.3L-0.2,0.3Z", "size": 1369, "angle": 19, "filled": true, "fill": "#f4a72e", "stroke": "#b96a10", "strokeWidth": 1, "opacity": 1}, "encoding": {"x": {"field": "x", "type": "quantitative"}, "y": {"field": "y", "type": "quantitative"}}},
{"data": {"name": "series"}, "mark": {"type": "point", "filled": true, "opacity": 0}, "encoding": {"x": {"datum": 20, "type": "quantitative"}, "y": {"datum": 0, "type": "quantitative"},
  "fill": {"field": "s", "type": "nominal", "scale": {"domain": ["I Obs", "I Calc", "Diff", "Bragg Position"], "range": ["#111111", "#e81c1c", "#5050ff", "#48d848"]}},
  "stroke": {"field": "s", "type": "nominal", "scale": {"domain": ["I Obs", "I Calc", "Diff", "Bragg Position"], "range": ["#555555", "#e81c1c", "#5050ff", "#48d848"]}},
  "shape": {"field": "s", "type": "nominal", "scale": {"domain": ["I Obs", "I Calc", "Diff", "Bragg Position"], "range": ["circle", "stroke", "stroke", "M0,-1L0,1"]}},
  "size": {"field": "s", "type": "nominal", "scale": {"domain": ["I Obs", "I Calc", "Diff", "Bragg Position"], "range": [30, 784, 784, 20]}}}}
]
},
{
"width": 429, "height": 258,
"layer": [
{"data": {"name": "prof"}, "mark": {"type": "line", "strokeWidth": 7, "color": "#151515", "strokeJoin": "round", "strokeCap": "round"}, "encoding": {"x": {"field": "x", "type": "quantitative", "scale": {"domain": [20, 90], "nice": false, "zero": false}, "axis": {"title": "2θ (°)", "values": [20,25,30,35,40,45,50,55,60,65,70,75,80,85,90], "labelExpr": "datum.value % 10 === 0 ? datum.label : ''", "titlePadding": 10}}, "y": {"field": "o3", "type": "quantitative", "scale": {"domain": [-3000, 13000], "nice": false, "zero": false}, "axis": {"title": "Intensity (cts)", "format": "d", "values": [-2000,0,2000,4000,6000,8000,10000,12000], "labelFontSize": 13.5, "labelOverlap": false, "titlePadding": 6}}}},
{"data": {"name": "prof"}, "mark": {"type": "point", "filled": true, "size": 42, "color": "#111111", "stroke": "#7a7a7a", "strokeWidth": 0.7, "opacity": 1}, "encoding": {"x": {"field": "x", "type": "quantitative"}, "y": {"field": "o3", "type": "quantitative"}}},
{"data": {"name": "prof"}, "mark": {"type": "line", "strokeWidth": 2.6, "color": "#e81c1c"}, "encoding": {"x": {"field": "x", "type": "quantitative"}, "y": {"field": "c3", "type": "quantitative"}}},
{"data": {"name": "diff"}, "mark": {"type": "line", "strokeWidth": 1.3, "color": "#1f1fe0"}, "encoding": {"x": {"field": "x", "type": "quantitative"}, "y": {"field": "d3", "type": "quantitative"}}},
{"data": {"name": "bragg"}, "mark": {"type": "tick", "orient": "vertical", "size": 8, "thickness": 2, "opacity": 1, "color": "#48d848"}, "encoding": {"x": {"field": "x", "type": "quantitative"}, "y": {"datum": -1200, "type": "quantitative"}}},
{"data": {"name": "lab"}, "transform": [{"filter": "datum.p === 'LB900'"}], "mark": {"type": "text", "font": "DejaVu Sans", "fontWeight": "bold", "fontSize": 9, "color": "#333333"}, "encoding": {"x": {"field": "x", "type": "quantitative"}, "y": {"field": "y", "type": "quantitative"}, "text": {"field": "t"}}},
{"data": {"name": "names"}, "transform": [{"filter": "datum.p === 'LB900'"}], "mark": {"type": "text", "align": "left", "baseline": "middle", "font": "DejaVu Sans", "fontWeight": "bold", "fontSize": 19, "color": "#111111"}, "encoding": {"x": {"field": "x", "type": "quantitative"}, "y": {"field": "y", "type": "quantitative"}, "text": {"field": "t"}}},
{"data": {"name": "series"}, "mark": {"type": "point", "filled": true, "opacity": 0}, "encoding": {"x": {"datum": 20, "type": "quantitative"}, "y": {"datum": 0, "type": "quantitative"},
  "fill": {"field": "s", "type": "nominal", "scale": {"domain": ["I Obs", "I Calc", "Diff", "Bragg Position"], "range": ["#111111", "#e81c1c", "#5050ff", "#48d848"]}},
  "stroke": {"field": "s", "type": "nominal", "scale": {"domain": ["I Obs", "I Calc", "Diff", "Bragg Position"], "range": ["#555555", "#e81c1c", "#5050ff", "#48d848"]}},
  "shape": {"field": "s", "type": "nominal", "scale": {"domain": ["I Obs", "I Calc", "Diff", "Bragg Position"], "range": ["circle", "stroke", "stroke", "M0,-1L0,1"]}},
  "size": {"field": "s", "type": "nominal", "scale": {"domain": ["I Obs", "I Calc", "Diff", "Bragg Position"], "range": [30, 784, 784, 20]}}}}
]
},
{
"width": 429, "height": 259,
"layer": [
{"data": {"name": "prof"}, "mark": {"type": "line", "strokeWidth": 7, "color": "#151515", "strokeJoin": "round", "strokeCap": "round"}, "encoding": {"x": {"field": "x", "type": "quantitative", "scale": {"domain": [20, 90], "nice": false, "zero": false}, "axis": {"title": "2θ (°)", "values": [20,25,30,35,40,45,50,55,60,65,70,75,80,85,90], "labelExpr": "datum.value % 10 === 0 ? datum.label : ''", "titlePadding": 6}}, "y": {"field": "o4", "type": "quantitative", "scale": {"domain": [-7500, 27500], "nice": false, "zero": false}, "axis": {"title": "Intensity (cts)", "format": "d", "values": [-5000,0,5000,10000,15000,20000,25000], "labelFontSize": 13.5, "labelOverlap": false, "titlePadding": 6}}}},
{"data": {"name": "prof"}, "mark": {"type": "point", "filled": true, "size": 42, "color": "#111111", "stroke": "#7a7a7a", "strokeWidth": 0.7, "opacity": 1}, "encoding": {"x": {"field": "x", "type": "quantitative"}, "y": {"field": "o4", "type": "quantitative"}}},
{"data": {"name": "prof"}, "mark": {"type": "line", "strokeWidth": 2.6, "color": "#e81c1c"}, "encoding": {"x": {"field": "x", "type": "quantitative"}, "y": {"field": "c4", "type": "quantitative"}}},
{"data": {"name": "diff"}, "mark": {"type": "line", "strokeWidth": 1.3, "color": "#1f1fe0"}, "encoding": {"x": {"field": "x", "type": "quantitative"}, "y": {"field": "d4", "type": "quantitative"}}},
{"data": {"name": "bragg"}, "mark": {"type": "tick", "orient": "vertical", "size": 8, "thickness": 2, "opacity": 1, "color": "#48d848"}, "encoding": {"x": {"field": "x", "type": "quantitative"}, "y": {"datum": -1490, "type": "quantitative"}}},
{"data": {"name": "lab"}, "transform": [{"filter": "datum.p === 'LB1200'"}], "mark": {"type": "text", "font": "DejaVu Sans", "fontWeight": "bold", "fontSize": 9, "color": "#333333"}, "encoding": {"x": {"field": "x", "type": "quantitative"}, "y": {"field": "y", "type": "quantitative"}, "text": {"field": "t"}}},
{"data": {"name": "names"}, "transform": [{"filter": "datum.p === 'LB1200'"}], "mark": {"type": "text", "align": "left", "baseline": "middle", "font": "DejaVu Sans", "fontWeight": "bold", "fontSize": 19, "color": "#111111"}, "encoding": {"x": {"field": "x", "type": "quantitative"}, "y": {"field": "y", "type": "quantitative"}, "text": {"field": "t"}}},
{"data": {"name": "series"}, "mark": {"type": "point", "filled": true, "opacity": 0}, "encoding": {"x": {"datum": 20, "type": "quantitative"}, "y": {"datum": 0, "type": "quantitative"},
  "fill": {"field": "s", "type": "nominal", "scale": {"domain": ["I Obs", "I Calc", "Diff", "Bragg Position"], "range": ["#111111", "#e81c1c", "#5050ff", "#48d848"]}},
  "stroke": {"field": "s", "type": "nominal", "scale": {"domain": ["I Obs", "I Calc", "Diff", "Bragg Position"], "range": ["#555555", "#e81c1c", "#5050ff", "#48d848"]}},
  "shape": {"field": "s", "type": "nominal", "scale": {"domain": ["I Obs", "I Calc", "Diff", "Bragg Position"], "range": ["circle", "stroke", "stroke", "M0,-1L0,1"]}},
  "size": {"field": "s", "type": "nominal", "scale": {"domain": ["I Obs", "I Calc", "Diff", "Bragg Position"], "range": [30, 784, 784, 20]}}}}
]
}
]
}
